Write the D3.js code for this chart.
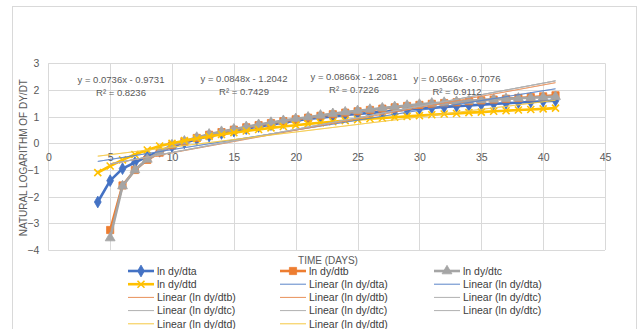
<!DOCTYPE html>
<html>
<head>
<meta charset="utf-8">
<script src="https://cdn.jsdelivr.net/npm/d3@7"></script>
<style>
  body { margin: 0; background: #fff; }
  svg { font-family: "Liberation Sans", Arial, sans-serif; }
</style>
</head>
<body>
<div></div>
<script>
// days (x) for each series
const daysA = [4,5,6,7,8,9,10,11,12,13,14,15,16,17,18,19,20,21,22,23,24,25,26,27,28,29,30,31,32,33,34,35,36,37,38,39,40,41];
const daysB = [5,6,7,8,9,10,11,12,13,14,15,16,17,18,19,20,21,22,23,24,25,26,27,28,29,30,31,32,33,34,35,36,37,38,39,40,41];
const daysC = daysB;
const daysD = daysA;

// ln dy/dt values
const lnA = [-2.2,-1.4,-0.95,-0.72,-0.5,-0.3,-0.12,0.02,0.15,0.27,0.37,0.46,0.55,0.63,0.7,0.78,0.85,0.91,0.96,1.01,1.06,1.1,1.14,1.18,1.22,1.26,1.3,1.33,1.36,1.39,1.42,1.45,1.48,1.5,1.53,1.55,1.58,1.6];
const lnB = [-3.25,-1.58,-1.0,-0.62,-0.35,-0.08,0.06,0.2,0.32,0.42,0.51,0.6,0.68,0.76,0.83,0.9,0.96,1.03,1.09,1.15,1.2,1.25,1.3,1.35,1.4,1.44,1.48,1.51,1.54,1.58,1.61,1.64,1.67,1.7,1.73,1.76,1.8];
const lnC = [-3.55,-1.6,-1.0,-0.6,-0.33,-0.06,0.08,0.22,0.34,0.44,0.53,0.62,0.7,0.78,0.85,0.92,0.98,1.05,1.11,1.17,1.22,1.27,1.32,1.37,1.42,1.46,1.5,1.53,1.56,1.59,1.62,1.65,1.67,1.69,1.71,1.73,1.75];
const lnD = [-1.1,-0.85,-0.62,-0.42,-0.25,-0.1,0.0,0.1,0.18,0.26,0.33,0.4,0.46,0.52,0.58,0.63,0.68,0.73,0.77,0.81,0.85,0.89,0.92,0.95,0.98,1.01,1.04,1.07,1.1,1.12,1.15,1.17,1.2,1.22,1.25,1.27,1.29,1.32];

const seriesNames = ["ln dy/dta", "ln dy/dtb", "ln dy/dtc", "ln dy/dtd"];

// linear trendlines (Excel labels)
const slopes = [0.0736, 0.0848, 0.0866, 0.0566];
const intercepts = [-0.9731, -1.2042, -1.2081, -0.7076];
const rSquared = [0.8236, 0.7429, 0.7226, 0.9112];
// which series each "Linear (...)" legend entry belongs to
const trendEntries = [0, 0, 1, 1, 2, 2, 2, 2, 3, 3];

const xTicks = [0, 5, 10, 15, 20, 25, 30, 35, 40, 45];
const yTicks = [-4, -3, -2, -1, 0, 1, 2, 3];

const width = 641;
const height = 329;
const colors = ["#4472C4", "#ED7D31", "#A5A5A5", "#FFC000"];
const trendColors = ["#5B84C9", "#E8915A", "#B0B0B0", "#F5C842"];
const textColor = "#595959";

const svg = d3
  .select("div")
  .append("svg")
  .attr("width", width)
  .attr("height", height);

// chart border
svg
  .append("rect")
  .attr("x", 12.5)
  .attr("y", 6.5)
  .attr("width", 624)
  .attr("height", 330)
  .attr("fill", "#fff")
  .attr("stroke", "#d9d9d9");

const scale_X = d3.scaleLinear().domain([0, 45]).range([48.3, 605]);
const scale_Y = d3.scaleLinear().domain([-4, 3]).range([250, 63.3]);

// gridlines
svg
  .append("g")
  .selectAll("line")
  .data(yTicks)
  .enter()
  .append("line")
  .attr("x1", scale_X(0))
  .attr("x2", scale_X(45))
  .attr("y1", (d) => Math.round(scale_Y(d)) + 0.5)
  .attr("y2", (d) => Math.round(scale_Y(d)) + 0.5)
  .attr("stroke", "#d9d9d9");

svg
  .append("g")
  .selectAll("line")
  .data(xTicks)
  .enter()
  .append("line")
  .attr("x1", (d) => Math.round(scale_X(d)) + 0.5)
  .attr("x2", (d) => Math.round(scale_X(d)) + 0.5)
  .attr("y1", scale_Y(3))
  .attr("y2", scale_Y(-4))
  .attr("stroke", "#d9d9d9");

// axes (labels only, Excel style)
const axis_X = d3.axisBottom(scale_X).tickValues(xTicks).tickSize(0).tickPadding(10);
const axis_Y = d3
  .axisLeft(scale_Y)
  .tickValues(yTicks)
  .tickSize(0)
  .tickPadding(9)
  .tickFormat(d3.format("d"));

const gx = svg
  .append("g")
  .attr("transform", "translate(0," + scale_Y(0) + ")")
  .call(axis_X);
const gy = svg
  .append("g")
  .attr("transform", "translate(" + scale_X(0) + ",0)")
  .call(axis_Y);

[gx, gy].forEach((g) => {
  g.select(".domain").remove();
  g.selectAll("text").attr("fill", textColor).style("font-size", "10.5px");
});

// axis titles
svg
  .append("text")
  .attr("transform", "translate(27," + (scale_Y(-0.5) + 1) + ") rotate(-90)")
  .attr("text-anchor", "middle")
  .attr("fill", textColor)
  .style("font-size", "10px")
  .text("NATURAL LOGARITHM OF DY/DT");

svg
  .append("text")
  .attr("x", 328)
  .attr("y", 264)
  .attr("text-anchor", "middle")
  .attr("fill", textColor)
  .style("font-size", "10px")
  .text("TIME (DAYS)");

// series
const allSeries = [
  { days: daysA, vals: lnA },
  { days: daysB, vals: lnB },
  { days: daysC, vals: lnC },
  { days: daysD, vals: lnD },
];

const symbols = [
  d3.symbol().type(d3.symbolDiamond).size(40)(),
  d3.symbol().type(d3.symbolSquare).size(52)(),
  d3.symbol().type(d3.symbolTriangle).size(42)(),
  "M-3.5,-3.5L3.5,3.5M-3.5,3.5L3.5,-3.5",
];

const line = d3
  .line()
  .x((d) => scale_X(d[0]))
  .y((d) => scale_Y(d[1]));

allSeries.forEach((s, i) => {
  const pts = s.days.map((d, j) => [d, s.vals[j]]);
  const g = svg.append("g");
  g.append("path")
    .attr("d", line(pts))
    .attr("fill", "none")
    .attr("stroke", colors[i])
    .attr("stroke-width", 2.6)
    .attr("stroke-linejoin", "round");
  g.selectAll("path.dot")
    .data(pts)
    .enter()
    .append("path")
    .attr("class", "dot")
    .attr("transform", (d) => "translate(" + scale_X(d[0]) + "," + scale_Y(d[1]) + ")")
    .attr("d", symbols[i])
    .attr("fill", i === 3 ? "none" : colors[i])
    .attr("stroke", colors[i])
    .attr("stroke-width", i === 3 ? 1.6 : 0.8);
});

// trendlines
trendEntries.forEach((si) => {
  const s = allSeries[si];
  const x0 = d3.min(s.days);
  const x1 = d3.max(s.days);
  svg
    .append("line")
    .attr("x1", scale_X(x0))
    .attr("y1", scale_Y(slopes[si] * x0 + intercepts[si]))
    .attr("x2", scale_X(x1))
    .attr("y2", scale_Y(slopes[si] * x1 + intercepts[si]))
    .attr("stroke", trendColors[si])
    .attr("stroke-width", 0.8)
    .attr("opacity", 0.85);
});

// trendline equations
const eqPos = [
  [121, 83],
  [244, 82],
  [354, 80],
  [457, 82],
];
const fmt = d3.format(".4f");
slopes.forEach((m, i) => {
  const b = intercepts[i];
  const t = svg
    .append("text")
    .attr("x", eqPos[i][0])
    .attr("y", eqPos[i][1])
    .attr("text-anchor", "middle")
    .attr("fill", textColor)
    .style("font-size", "9.5px");
  t.append("tspan")
    .text("y = " + fmt(m) + "x " + (b < 0 ? "- " : "+ ") + fmt(Math.abs(b)));
  t.append("tspan")
    .attr("x", eqPos[i][0])
    .attr("dy", 12.5)
    .text("R\u00B2 = " + fmt(rSquared[i]));
});

// legend
const legendItems = seriesNames
  .map((n, i) => ({ name: n, idx: i, trend: false }))
  .concat(trendEntries.map((si) => ({ name: "Linear (" + seriesNames[si] + ")", idx: si, trend: true })));

const colX = [128, 280, 434];
const legend = svg.append("g");
legendItems.forEach((it, k) => {
  const cx = colX[k % 3];
  const cy = 271 + Math.floor(k / 3) * 13.2;
  const g = legend.append("g");
  g.append("line")
    .attr("x1", cx)
    .attr("x2", cx + 26)
    .attr("y1", cy)
    .attr("y2", cy)
    .attr("stroke", it.trend ? trendColors[it.idx] : colors[it.idx])
    .attr("stroke-width", it.trend ? 1 : 2.6);
  if (!it.trend) {
    g.append("path")
      .attr("transform", "translate(" + (cx + 13) + "," + cy + ")")
      .attr("d", symbols[it.idx])
      .attr("fill", it.idx === 3 ? "none" : colors[it.idx])
      .attr("stroke", colors[it.idx])
      .attr("stroke-width", it.idx === 3 ? 1.6 : 0.8);
  }
  g.append("text")
    .attr("x", cx + 29)
    .attr("y", cy + 3.8)
    .attr("fill", "#404040")
    .style("font-size", "10.5px")
    .text(it.name);
});
</script>
</body>
</html>
